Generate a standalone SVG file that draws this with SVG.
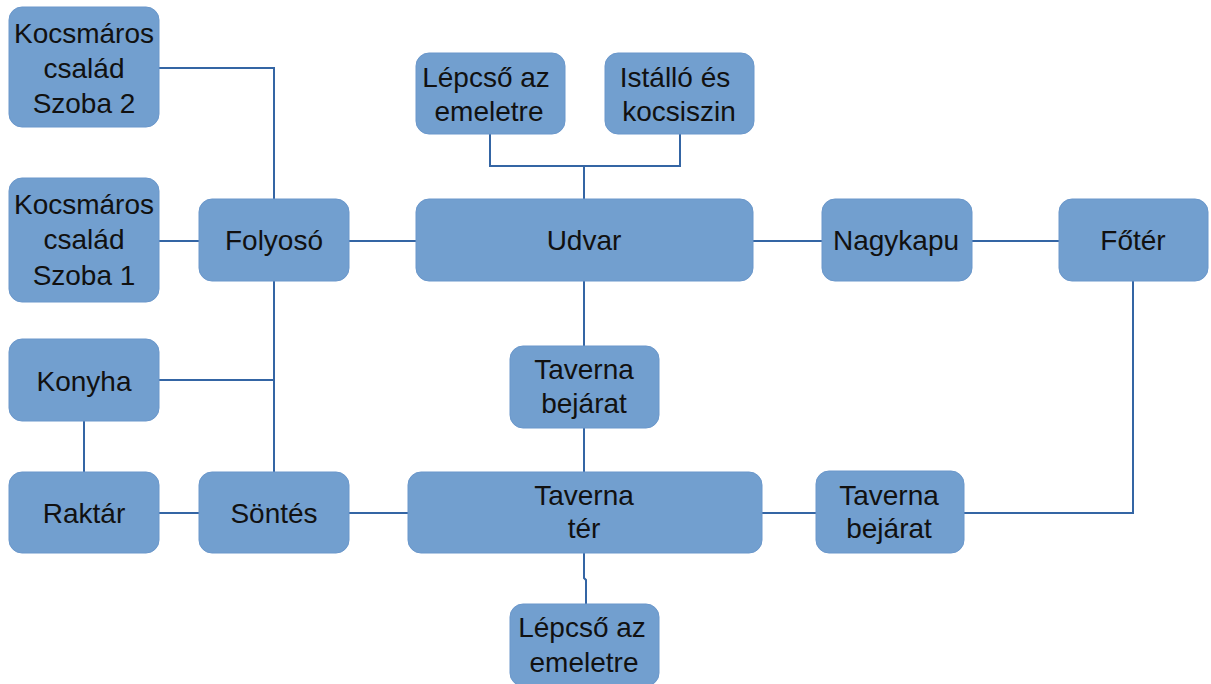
<svg xmlns="http://www.w3.org/2000/svg" width="1211" height="684" viewBox="0 0 1211 684">
<style>
.n rect{fill:#729fcf;stroke:#6a97cb;stroke-width:1}
.n text{font-family:"Liberation Sans",Arial,sans-serif;font-size:28px;fill:#111;text-anchor:middle}
#edges path{fill:none;stroke:#3465a4;stroke-width:2}
</style>
<rect width="1211" height="684" fill="#fff"/>
<g id="edges">
<path d="M159 68H274V199"/>
<path d="M159 241H199"/>
<path d="M349 241H416"/>
<path d="M274 281V472"/>
<path d="M159 380H274"/>
<path d="M84 421V472"/>
<path d="M159 513H199"/>
<path d="M349 513H408"/>
<path d="M490 134V166H680V134"/>
<path d="M584 166V199"/>
<path d="M753 241H822"/>
<path d="M972 241H1059"/>
<path d="M1133 281V513H964"/>
<path d="M762 513H816"/>
<path d="M584 281V346"/>
<path d="M584 428V472"/>
<path d="M584 553V578L586 580V604"/>
</g>
<g id="szoba2" class="n"><rect x="9" y="7" width="150" height="120" rx="13"/><text x="84" y="43">Kocsmáros</text><text x="84" y="78">család</text><text x="84" y="113">Szoba 2</text></g>
<g id="szoba1" class="n"><rect x="9" y="178" width="150" height="124" rx="13"/><text x="84" y="214">Kocsmáros</text><text x="84" y="249">család</text><text x="84" y="285">Szoba 1</text></g>
<g id="folyoso" class="n"><rect x="199" y="199" width="150" height="82" rx="13"/><text x="274" y="250">Folyosó</text></g>
<g id="konyha" class="n"><rect x="9" y="339" width="150" height="82" rx="13"/><text x="84" y="391">Konyha</text></g>
<g id="raktar" class="n"><rect x="9" y="472" width="150" height="81" rx="13"/><text x="84" y="523">Raktár</text></g>
<g id="sontes" class="n"><rect x="199" y="472" width="150" height="81" rx="13"/><text x="274" y="523">Söntés</text></g>
<g id="lepcso1" class="n"><rect x="416" y="53" width="149" height="81" rx="13"/><text x="486" y="87">Lépcső az</text><text x="489" y="121">emeletre</text></g>
<g id="istallo" class="n"><rect x="605" y="53" width="149" height="81" rx="13"/><text x="675" y="87">Istálló és</text><text x="679" y="121">kocsiszin</text></g>
<g id="udvar" class="n"><rect x="416" y="199" width="337" height="82" rx="13"/><text x="584" y="250">Udvar</text></g>
<g id="nagykapu" class="n"><rect x="822" y="199" width="150" height="82" rx="13"/><text x="896" y="250">Nagykapu</text></g>
<g id="foter" class="n"><rect x="1059" y="199" width="149" height="82" rx="13"/><text x="1133" y="250">Főtér</text></g>
<g id="bejarat1" class="n"><rect x="510" y="346" width="149" height="82" rx="13"/><text x="584" y="379">Taverna</text><text x="584" y="413">bejárat</text></g>
<g id="taverna" class="n"><rect x="408" y="472" width="354" height="81" rx="13"/><text x="584" y="505">Taverna</text><text x="584" y="538">tér</text></g>
<g id="bejarat2" class="n"><rect x="816" y="471" width="148" height="82" rx="13"/><text x="889" y="505">Taverna</text><text x="889" y="538">bejárat</text></g>
<g id="lepcso2" class="n"><rect x="510" y="604" width="149" height="82" rx="13"/><text x="582" y="637">Lépcső az</text><text x="584" y="672">emeletre</text></g>
</svg>
